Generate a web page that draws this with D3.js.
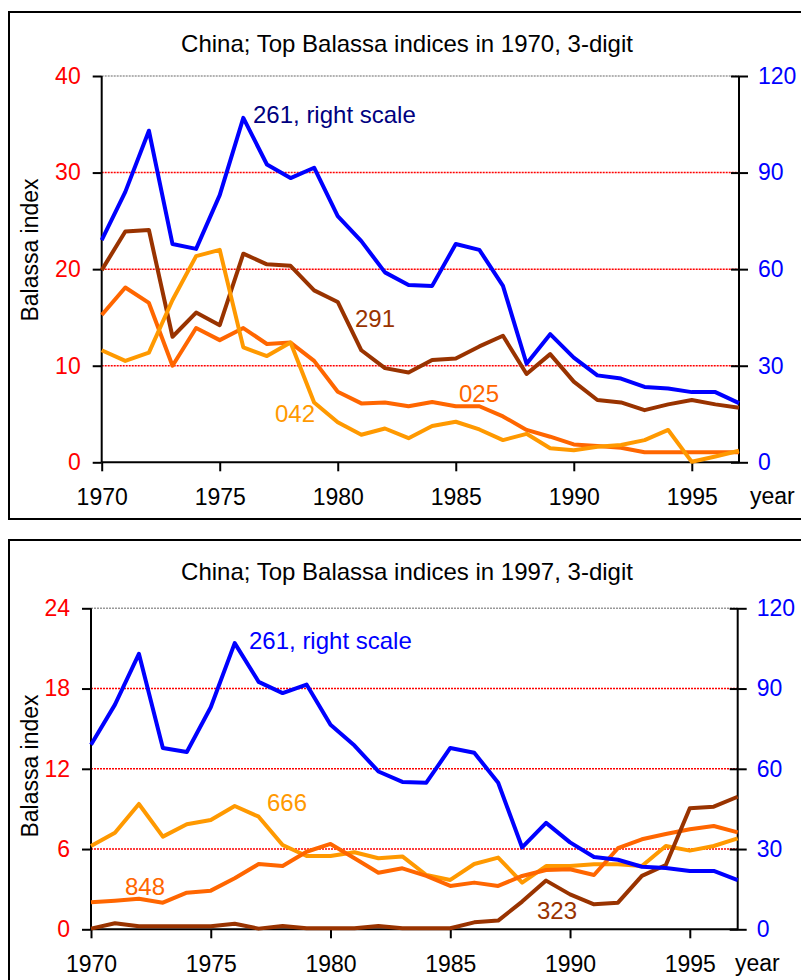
<!DOCTYPE html>
<html>
<head>
<meta charset="utf-8">
<script src="https://cdn.jsdelivr.net/npm/d3@7"></script>
<style>
  body { margin: 0; background: #fff; }
  text { font-family: "Liberation Sans", Arial, sans-serif; }
</style>
</head>
<body>
<div id="chart"></div>
<script>
// China, Balassa indices (3-digit)

var years = [1970, 1971, 1972, 1973, 1974, 1975, 1976, 1977, 1978, 1979,
             1980, 1981, 1982, 1983, 1984, 1985, 1986, 1987, 1988, 1989,
             1990, 1991, 1992, 1993, 1994, 1995, 1996, 1997];
var xTicks = [1970, 1975, 1980, 1985, 1990, 1995];

// 261, plotted on the right scale in both charts
var s261 = [69, 84, 103, 67.8, 66.3, 83, 107, 92.5, 88.3, 91.5,
            76.5, 68.7, 59, 55.1, 54.8, 67.8, 66, 54.8, 30.6, 39.8,
            32.5, 27, 26, 23.4, 22.9, 21.8, 21.8, 18.4];

// top chart: top indices in 1970
var s291 = [19.9, 23.9, 24.05, 13.0, 15.5, 14.2, 21.6, 20.5, 20.35, 17.8,
            16.6, 11.6, 9.75, 9.3, 10.6, 10.75, 12.0, 13.1, 9.15, 11.2,
            8.35, 6.45, 6.2, 5.4, 6.0, 6.45, 6.0, 5.65];
var s025 = [15.25, 18.1, 16.5, 10.0, 13.9, 12.65, 13.9, 12.25, 12.4, 10.5,
            7.3, 6.1, 6.2, 5.8, 6.25, 5.8, 5.8, 4.75, 3.35, 2.65,
            1.85, 1.7, 1.5, 1.05, 1.05, 1.05, 1.05, 1.05];
var s042 = [11.6, 10.5, 11.35, 16.8, 21.35, 22.0, 11.9, 11.0, 12.4, 6.2,
            4.15, 2.85, 3.5, 2.5, 3.75, 4.2, 3.4, 2.3, 2.95, 1.45,
            1.25, 1.6, 1.8, 2.3, 3.35, 0.05, 0.6, 1.2];

// bottom chart: top indices in 1997
var s666 = [6.23, 7.22, 9.37, 6.93, 7.85, 8.17, 9.22, 8.42, 6.3, 5.48,
            5.48, 5.76, 5.31, 5.45, 4.06, 3.69, 4.88, 5.36, 3.49, 4.73,
            4.73, 4.86, 4.86, 4.73, 6.23, 5.88, 6.23, 6.8];
var s848 = [2.02, 2.14, 2.29, 1.99, 2.74, 2.89, 3.81, 4.88, 4.73, 5.8,
            6.38, 5.31, 4.23, 4.56, 3.99, 3.24, 3.49, 3.24, 3.99, 4.43,
            4.49, 4.06, 6.06, 6.73, 7.13, 7.48, 7.72, 7.25];
var s323 = [0.05, 0.45, 0.22, 0.22, 0.22, 0.22, 0.42, 0.05, 0.25, 0.08,
            0.08, 0.08, 0.25, 0.08, 0.08, 0.08, 0.52, 0.65, 2.07, 3.64,
            2.61, 1.87, 1.99, 3.99, 4.81, 9.05, 9.17, 9.91];

var leftTicksTop = [0, 10, 20, 30, 40];
var leftTicksBottom = [0, 6, 12, 18, 24];
var rightTicks = [0, 30, 60, 90, 120];

var svgWidth = 801;
var svgHeight = 980;

var svg = d3.select("#chart")
    .append("svg")
    .attr("width", svgWidth)
    .attr("height", svgHeight);

var fontSize = 23;

function drawChart(cfg) {
    var g = svg.append("g");

    // panel frame (runs off the right edge of the picture)
    g.append("rect")
        .attr("x", 9)
        .attr("y", cfg.boxTop)
        .attr("width", 820)
        .attr("height", cfg.boxHeight)
        .attr("fill", "none")
        .attr("stroke", "#000")
        .attr("stroke-width", 2);

    g.append("text")
        .attr("x", 407)
        .attr("y", cfg.titleY)
        .attr("text-anchor", "middle")
        .attr("font-size", 24)
        .text(cfg.title);

    var x = d3.scaleLinear().domain([1970, 1997]).range([cfg.left, cfg.right]);
    var yL = d3.scaleLinear().domain([0, cfg.leftMax]).range([cfg.bottom, cfg.top]);
    var yR = d3.scaleLinear().domain([0, 120]).range([cfg.bottom, cfg.top]);

    // gridlines
    g.selectAll(".grid")
        .data(cfg.leftTicks.filter(d => d > 0))
        .enter()
        .append("line")
        .attr("x1", cfg.left)
        .attr("x2", cfg.right)
        .attr("y1", d => yL(d))
        .attr("y2", d => yL(d))
        .attr("stroke", d => d === cfg.leftMax ? "#999" : "#ff0000")
        .attr("stroke-width", 1.5)
        .attr("stroke-dasharray", "2,1");

    // left axis
    var leftAxis = d3.axisLeft(yL).tickValues(cfg.leftTicks).tickSize(9).tickPadding(12);
    var gl = g.append("g")
        .attr("transform", `translate(${cfg.left},0)`)
        .call(leftAxis);
    gl.select(".domain").attr("stroke", "#000").attr("stroke-width", 2).attr("d", `M0,${cfg.top}V${cfg.bottom}`);
    gl.selectAll(".tick line").attr("stroke-width", 2);
    gl.selectAll(".tick text")
        .attr("font-size", fontSize)
        .attr("font-family", "Liberation Sans, Arial, sans-serif")
        .attr("fill", "#ff0000");

    // right axis, ticks cross the axis
    var rightAxis = d3.axisRight(yR).tickValues(rightTicks).tickSize(9).tickPadding(10);
    var gr = g.append("g")
        .attr("transform", `translate(${cfg.right},0)`)
        .call(rightAxis);
    gr.select(".domain").attr("stroke", "#000").attr("stroke-width", 2).attr("d", `M0,${cfg.top}V${cfg.bottom}`);
    gr.selectAll(".tick line").attr("x1", -8).attr("stroke-width", 2);
    gr.selectAll(".tick text")
        .attr("font-size", fontSize)
        .attr("font-family", "Liberation Sans, Arial, sans-serif")
        .attr("fill", "#0000ff");

    // bottom axis
    var bottomAxis = d3.axisBottom(x).tickValues(xTicks).tickFormat(d3.format("d")).tickSize(9).tickPadding(17);
    var gb = g.append("g")
        .attr("transform", `translate(0,${cfg.bottom})`)
        .call(bottomAxis);
    gb.select(".domain").attr("stroke", "#000").attr("stroke-width", 2).attr("d", `M${cfg.left},0H${cfg.right}`);
    gb.selectAll(".tick line").attr("stroke-width", 2);
    gb.selectAll(".tick text")
        .attr("font-size", fontSize)
        .attr("font-family", "Liberation Sans, Arial, sans-serif")
        .attr("fill", "#000");

    g.append("text")
        .attr("x", cfg.yearX)
        .attr("y", cfg.bottom + 42)
        .attr("font-size", fontSize)
        .text("year");

    g.append("text")
        .attr("transform", `translate(38,${cfg.labelY}) rotate(-90)`)
        .attr("text-anchor", "middle")
        .attr("font-size", fontSize)
        .text("Balassa index");

    // series lines
    cfg.series.forEach(function(s) {
        var yS = s.right ? yR : yL;
        var line = d3.line()
            .x((d, i) => x(years[i]))
            .y(d => yS(d));
        g.append("path")
            .datum(s.values)
            .attr("d", line)
            .attr("fill", "none")
            .attr("stroke", s.color)
            .attr("stroke-width", 4)
            .attr("stroke-linejoin", "round");
    });

    cfg.notes.forEach(function(n) {
        g.append("text")
            .attr("x", n.x)
            .attr("y", n.y)
            .attr("font-size", 24)
            .attr("fill", n.color)
            .text(n.text);
    });
}

drawChart({
    title: "China; Top Balassa indices in 1970, 3-digit",
    boxTop: 12, boxHeight: 507, titleY: 52,
    left: 101.7, right: 739, top: 76, bottom: 462.3,
    leftMax: 40, leftTicks: leftTicksTop,
    yearX: 750, labelY: 250,
    series: [
        { values: s291, color: "#993300" },
        { values: s025, color: "#ff6600" },
        { values: s042, color: "#ff9900" },
        { values: s261, color: "#0000ff", right: true }
    ],
    notes: [
        { text: "261, right scale", x: 253, y: 123, color: "#000080" },
        { text: "291", x: 355, y: 327, color: "#993300" },
        { text: "042", x: 275, y: 422, color: "#ff9900" },
        { text: "025", x: 459, y: 402, color: "#ff6600" }
    ]
});

drawChart({
    title: "China; Top Balassa indices in 1997, 3-digit",
    boxTop: 540, boxHeight: 460, titleY: 580,
    left: 91, right: 737.7, top: 608.3, bottom: 929.3,
    leftMax: 24, leftTicks: leftTicksBottom,
    yearX: 735, labelY: 766,
    series: [
        { values: s666, color: "#ff9900" },
        { values: s848, color: "#ff6600" },
        { values: s323, color: "#993300" },
        { values: s261, color: "#0000ff", right: true }
    ],
    notes: [
        { text: "261, right scale", x: 249, y: 649, color: "#0000ff" },
        { text: "666", x: 267, y: 811, color: "#ff9900" },
        { text: "848", x: 125, y: 895, color: "#ff6600" },
        { text: "323", x: 537, y: 919, color: "#993300" }
    ]
});
</script>
</body>
</html>
